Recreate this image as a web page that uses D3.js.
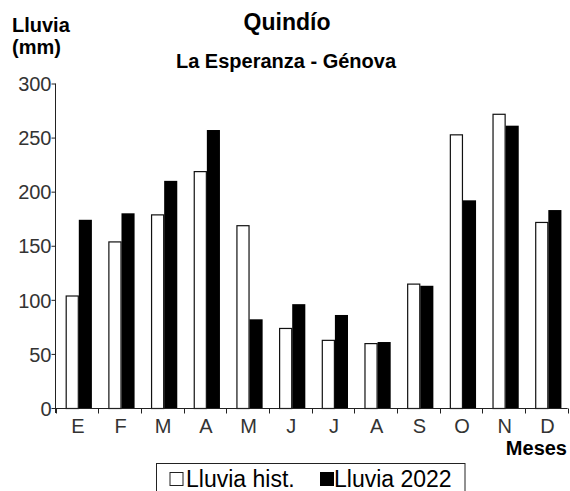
<!DOCTYPE html>
<html>
<head>
<meta charset="utf-8">
<script src="https://cdn.jsdelivr.net/npm/d3@7"></script>
<style>
  body { margin: 0; background: #fff; }
  svg { font-family: Arial, "Liberation Sans", sans-serif; }
</style>
</head>
<body>
<script>
const width = 570;
const height = 491;

// data
const months = ["E", "F", "M", "A", "M2", "J", "J2", "A2", "S", "O", "N", "D"];
const monthLabels = ["E", "F", "M", "A", "M", "J", "J", "A", "S", "O", "N", "D"];
const lluviaHist = [104, 154, 179, 219, 169, 74, 63, 60, 115, 253, 272, 172];
const lluvia2022 = [174, 180, 210, 257, 82, 96, 86, 61, 113, 192, 261, 183];
const yTicks = [0, 50, 100, 150, 200, 250, 300];
const series = ["hist", "2022"];

const svg = d3.select("body").append("svg")
  .attr("width", width)
  .attr("height", height);

var x = d3.scaleBand()
  .domain(months)
  .range([55.5, 567.7])
  .padding(0);

var x1 = d3.scaleBand()
  .domain(series)
  .range([10.2, 36.4]);

var y = d3.scaleLinear()
  .domain([0, 300])
  .range([408, 83.5]);

// bars
var groups = svg.append("g")
    .attr("class", "bars")
  .selectAll("g")
  .data(months)
  .enter().append("g")
    .attr("transform", function(d) { return "translate(" + x(d) + ",0)"; });

groups.append("rect")
    .attr("x", x1("hist") + 0.5)
    .attr("y", function(d, i) { return y(lluviaHist[i]) + 0.5; })
    .attr("width", x1.bandwidth() - 1)
    .attr("height", function(d, i) { return y(0) - y(lluviaHist[i]); })
    .attr("fill", "#fff")
    .attr("stroke", "#111")
    .attr("stroke-width", 1.2);

groups.append("rect")
    .attr("x", x1("2022"))
    .attr("y", function(d, i) { return y(lluvia2022[i]); })
    .attr("width", x1.bandwidth())
    .attr("height", function(d, i) { return y(0) - y(lluvia2022[i]); })
    .attr("fill", "#000");

// y axis
var yAxis = svg.append("g")
    .attr("transform", "translate(55.5,0)")
    .call(d3.axisLeft(y).tickValues(yTicks).tickSize(4).tickSizeOuter(0));
yAxis.select(".domain").attr("stroke", "#222").attr("d", "M0," + y(300) + "V413");
yAxis.selectAll(".tick line").attr("stroke", "#222");
yAxis.selectAll(".tick text")
    .attr("x", -4)
    .attr("dy", "0.36em")
    .style("font-size", "20px")
    .style("font-family", "Arial, 'Liberation Sans', sans-serif")
    .attr("fill", "#333");

// x axis
var xAxis = svg.append("g")
    .attr("transform", "translate(0,408.5)");
xAxis.append("line")
    .attr("x1", 55.5).attr("x2", 567.7)
    .attr("stroke", "#222");
var edges = months.map(function(d) { return x(d); }).concat([x.range()[1]]);
xAxis.selectAll(".edge")
  .data(edges)
  .enter().append("line")
    .attr("class", "edge")
    .attr("x1", function(d) { return Math.round(d) + 0.5; })
    .attr("x2", function(d) { return Math.round(d) + 0.5; })
    .attr("y1", 0).attr("y2", 5)
    .attr("stroke", "#222");
xAxis.selectAll(".lbl")
  .data(months)
  .enter().append("text")
    .attr("class", "lbl")
    .attr("x", function(d) { return x(d) + x.bandwidth() / 2 + 1; })
    .attr("y", 24)
    .attr("text-anchor", "middle")
    .style("font-size", "20px")
    .attr("fill", "#333")
    .text(function(d, i) { return monthLabels[i]; });

// titles
svg.append("text")
    .attr("x", 287).attr("y", 30)
    .attr("text-anchor", "middle")
    .style("font-size", "23px").style("font-weight", "bold")
    .text("Quindío");
svg.append("text")
    .attr("x", 286).attr("y", 68)
    .attr("text-anchor", "middle")
    .style("font-size", "20px").style("font-weight", "bold")
    .text("La Esperanza - Génova");
svg.append("text")
    .attr("x", 12).attr("y", 32)
    .style("font-size", "20px").style("font-weight", "bold")
    .text("Lluvia");
svg.append("text")
    .attr("x", 12).attr("y", 54)
    .style("font-size", "20px").style("font-weight", "bold")
    .text("(mm)");
svg.append("text")
    .attr("x", 567).attr("y", 455)
    .attr("text-anchor", "end")
    .style("font-size", "20px").style("font-weight", "bold")
    .text("Meses");

// legend
var legend = svg.append("g").attr("class", "legend");
legend.append("rect")
    .attr("x", 156.5).attr("y", 463.5)
    .attr("width", 308.5).attr("height", 40)
    .attr("fill", "#fff").attr("stroke", "#222");
legend.append("rect")
    .attr("x", 170).attr("y", 472.5)
    .attr("width", 13).attr("height", 13)
    .attr("fill", "#fff").attr("stroke", "#222");
legend.append("text")
    .attr("x", 186).attr("y", 487)
    .style("font-size", "23px")
    .text("Lluvia hist.");
legend.append("rect")
    .attr("x", 320).attr("y", 472)
    .attr("width", 14).attr("height", 14)
    .attr("fill", "#000");
legend.append("text")
    .attr("x", 334).attr("y", 487)
    .style("font-size", "23px")
    .text("Lluvia 2022");
</script>
</body>
</html>
